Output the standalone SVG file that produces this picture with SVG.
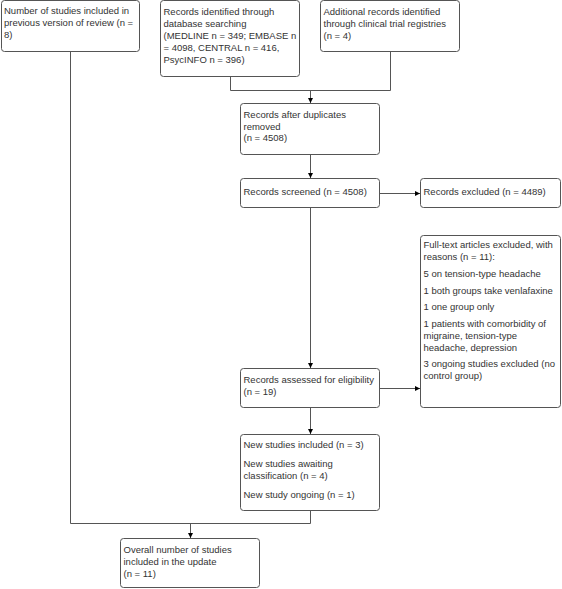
<svg xmlns="http://www.w3.org/2000/svg" width="562" height="589" viewBox="0 0 562 589">
<style>
.box{fill:#fff;stroke:#555;stroke-width:1}
.t{font-family:"Liberation Sans",Arial,sans-serif;font-size:9.5px;fill:#333}
.ln{fill:none;stroke:#555;stroke-width:1}
</style>
<defs>
<marker id="ah" markerUnits="userSpaceOnUse" markerWidth="5" markerHeight="5" refX="5" refY="2.5" orient="auto">
<path d="M0,0 L5,2.5 L0,5 z" fill="#000"/>
</marker>
</defs>
<rect width="562" height="589" fill="#fff"/>
<g id="connectors">
<path class="ln" d="M70.5 51 V523.5 H310.5 V510"/>
<path class="ln" d="M190.5 523.5 V538" marker-end="url(#ah)"/>
<path class="ln" d="M230.5 76 V90.5 H390.5 V51"/>
<path class="ln" d="M310.5 90.5 V103" marker-end="url(#ah)"/>
<path class="ln" d="M310.5 154 V178" marker-end="url(#ah)"/>
<path class="ln" d="M379 193.5 H420" marker-end="url(#ah)"/>
<path class="ln" d="M310.5 207 V368" marker-end="url(#ah)"/>
<path class="ln" d="M379 388.5 H420" marker-end="url(#ah)"/>
<path class="ln" d="M310.5 407 V434" marker-end="url(#ah)"/>
</g>
<g id="n1">
<rect class="box" x="1.5" y="0.5" width="138" height="51" rx="3"/>
<text class="t" x="4" y="14">Number of studies included in</text>
<text class="t" x="4" y="26">previous version of review (n =</text>
<text class="t" x="4" y="38">8)</text>
</g>
<g id="n2">
<rect class="box" x="160.5" y="0.5" width="139" height="76" rx="3"/>
<text class="t" x="163.5" y="14.5">Records identified through</text>
<text class="t" x="163.5" y="26.5">database searching</text>
<text class="t" x="163.5" y="38.5">(MEDLINE n = 349; EMBASE n</text>
<text class="t" x="163.5" y="50.5">= 4098, CENTRAL n = 416,</text>
<text class="t" x="163.5" y="62.5">PsycINFO n = 396)</text>
</g>
<g id="n3">
<rect class="box" x="320.5" y="0.5" width="139" height="51" rx="3"/>
<text class="t" x="323.5" y="14.5">Additional records identified</text>
<text class="t" x="323.5" y="26.5">through clinical trial registries</text>
<text class="t" x="323.5" y="38.5">(n = 4)</text>
</g>
<g id="n4">
<rect class="box" x="240.5" y="103.5" width="139" height="51" rx="3"/>
<text class="t" x="243.5" y="117.5">Records after duplicates</text>
<text class="t" x="243.5" y="129.5">removed</text>
<text class="t" x="243.5" y="141">(n = 4508)</text>
</g>
<g id="n5">
<rect class="box" x="240.5" y="178.5" width="139" height="29" rx="3"/>
<text class="t" x="243.5" y="195">Records screened (n = 4508)</text>
</g>
<g id="n6">
<rect class="box" x="420.5" y="178.5" width="140" height="29" rx="3"/>
<text class="t" x="423.5" y="195">Records excluded (n = 4489)</text>
</g>
<g id="n7">
<rect class="box" x="420.5" y="235.5" width="140" height="172" rx="3"/>
<text class="t" x="423.5" y="248">Full-text articles excluded, with</text>
<text class="t" x="423.5" y="260">reasons (n = 11):</text>
<text class="t" x="423.5" y="277">5 on tension-type headache</text>
<text class="t" x="423.5" y="293.5">1 both groups take venlafaxine</text>
<text class="t" x="423.5" y="310">1 one group only</text>
<text class="t" x="423.5" y="326.5">1 patients with comorbidity of</text>
<text class="t" x="423.5" y="338.5">migraine, tension-type</text>
<text class="t" x="423.5" y="350.5">headache, depression</text>
<text class="t" x="423.5" y="367">3 ongoing studies excluded (no</text>
<text class="t" x="423.5" y="379">control group)</text>
</g>
<g id="n8">
<rect class="box" x="240.5" y="368.5" width="139" height="39" rx="3"/>
<text class="t" x="243.5" y="383">Records assessed for eligibility</text>
<text class="t" x="243.5" y="395">(n = 19)</text>
</g>
<g id="n9">
<rect class="box" x="240.5" y="434.5" width="139" height="76" rx="3"/>
<text class="t" x="243.5" y="448">New studies included (n = 3)</text>
<text class="t" x="243.5" y="467">New studies awaiting</text>
<text class="t" x="243.5" y="479">classification (n = 4)</text>
<text class="t" x="243.5" y="498">New study ongoing (n = 1)</text>
</g>
<g id="n10">
<rect class="box" x="120.5" y="538.5" width="139" height="49" rx="3"/>
<text class="t" x="123.5" y="552.5">Overall number of studies</text>
<text class="t" x="123.5" y="564.5">included in the update</text>
<text class="t" x="123.5" y="576.5">(n = 11)</text>
</g>
</svg>
